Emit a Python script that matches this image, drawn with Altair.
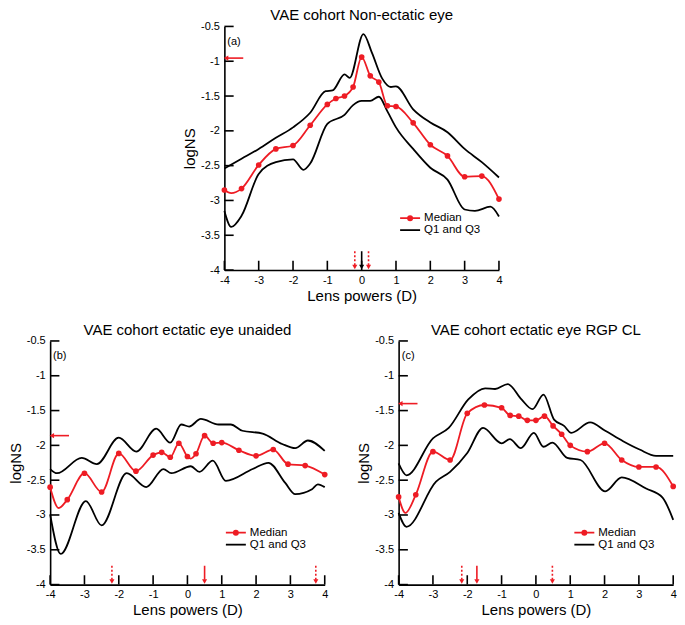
import altair as alt
import pandas as pd

RED = "#ee1c24"
FONT = "Liberation Sans"
W, H = 275, 244

# ---------------- Panel (a): VAE cohort Non-ectatic eye ----------------
a_med_x = [-4, -3.5, -3, -2.5, -2, -1.5, -1, -0.75, -0.5, -0.25, 0, 0.25, 0.5, 0.75, 1, 1.5, 2, 2.5, 3, 3.5, 4]
a_med_y = [-2.85, -2.83, -2.49, -2.26, -2.21, -1.92, -1.62, -1.535, -1.50, -1.37, -0.94, -1.21, -1.30, -1.64, -1.65,
           -1.885, -2.20, -2.36, -2.66, -2.65, -2.98]
a_ext_x = [-3.8]
a_ext_y = [-2.895]
a_q3_x = [-4, -3.5, -3, -2.5, -2, -1.5, -1.05, -0.85, -0.5, -0.35, 0.05, 0.3, 0.6, 0.85, 1.0, 1.5, 2, 2.5, 3, 3.5, 4]
a_q3_y = [-2.54, -2.40, -2.26, -2.10, -1.95, -1.74, -1.43, -1.42, -1.19, -1.24, -0.61, -0.88, -1.25, -1.37, -1.36,
          -1.69, -1.88, -2.02, -2.26, -2.45, -2.67]
a_q1_x = [-4, -3.8, -3.5, -3, -2.5, -2, -1.7, -1.5, -1, -0.5, -0.25, 0, 0.25, 0.5, 0.75, 1, 1.5, 2, 2.5, 3, 3.3, 3.75, 4]
a_q1_y = [-3.15, -3.38, -3.22, -2.62, -2.45, -2.41, -2.56, -2.47, -1.90, -1.77, -1.63, -1.57, -1.57, -1.51, -1.72,
          -1.95, -2.26, -2.53, -2.70, -3.13, -3.15, -3.09, -3.23]
a_down_x = [-0.2, 0, 0.2]
a_down_kind = ["range", "ref", "range"]
a_left_y = -0.955

# ---------------- Panel (b): VAE cohort ectatic eye unaided ----------------
b_med_x = [-4, -3.5, -3, -2.5, -2, -1.5, -1, -0.75, -0.5, -0.25, 0, 0.25, 0.5, 0.75, 1, 1.5, 2, 2.5, 2.93, 3.43, 4]
b_med_y = [-2.60, -2.78, -2.40, -2.67, -2.115, -2.37, -2.14, -2.10, -2.17, -1.97, -2.16, -2.12, -1.86, -1.97, -1.96,
           -2.07, -2.15, -2.06, -2.27, -2.29, -2.42]
b_ext_x = [-3.75, 0.1]
b_ext_y = [-2.90, -2.19]
b_q3_x = [-4, -3.8, -3.08, -2.64, -2.0, -1.49, -0.91, -0.5, -0.18, 0.05, 0.39, 0.91, 1.26, 1.6, 2.19, 2.76, 3.14, 3.51, 4]
b_q3_y = [-2.34, -2.40, -2.18, -2.27, -1.89, -2.09, -1.76, -1.96, -1.70, -1.73, -1.62, -1.70, -1.70, -1.79, -1.83,
          -1.98, -2.04, -1.93, -2.08]
b_q1_x = [-4, -3.69, -2.96, -2.5, -1.77, -1.2, -0.7, -0.47, 0.1, 0.35, 0.74, 1.12, 1.9, 2.36, 2.85, 3.14, 3.63, 3.8, 4]
b_q1_y = [-2.99, -3.56, -2.80, -3.15, -2.40, -2.60, -2.34, -2.40, -2.30, -2.38, -2.22, -2.51, -2.34, -2.25, -2.54,
          -2.70, -2.63, -2.56, -2.60]
b_down_x = [-2.2, 0.5, 3.74]
b_down_kind = ["range", "best", "range"]
b_left_y = -1.86

# ---------------- Panel (c): VAE cohort ectatic eye RGP CL ----------------
c_med_x = [-4, -3.5, -3, -2.5, -2, -1.5, -1, -0.75, -0.5, -0.25, 0, 0.25, 0.5, 0.75, 1, 1.5, 2, 2.5, 3, 3.5, 4]
c_med_y = [-2.74, -2.71, -2.09, -2.21, -1.54, -1.42, -1.46, -1.57, -1.58, -1.64, -1.64, -1.58, -1.72, -1.84, -2.0,
           -2.09, -1.97, -2.21, -2.31, -2.31, -2.59]
c_ext_x = [-3.8]
c_ext_y = [-2.97]
c_q3_x = [-4, -3.77, -3.0, -2.54, -1.97, -1.48, -1.19, -0.82, -0.42, -0.1, 0.22, 0.53, 0.82, 1.03, 1.58, 2.02, 2.54,
          3.02, 3.5, 4]
c_q3_y = [-2.26, -2.43, -1.90, -1.75, -1.34, -1.18, -1.19, -1.12, -1.34, -1.48, -1.27, -1.63, -1.72, -1.82, -1.67,
          -1.79, -1.94, -2.06, -2.15, -2.15]
c_q1_x = [-4, -3.77, -2.91, -2.5, -2.0, -1.54, -1.0, -0.76, -0.44, -0.06, 0.22, 0.48, 0.91, 1.3, 2.02, 2.5, 3.21,
          3.69, 4]
c_q1_y = [-2.97, -3.17, -2.52, -2.38, -2.11, -1.75, -1.97, -1.91, -2.04, -1.82, -2.02, -1.96, -2.18, -2.21, -2.66,
          -2.46, -2.62, -2.75, -3.07]
c_down_x = [-2.16, -1.72, 0.48]
c_down_kind = ["range", "best", "range"]
c_left_y = -1.40

X_TICKS = [-4, -3, -2, -1, 0, 1, 2, 3, 4]
Y_TICKS = [-0.5, -1, -1.5, -2, -2.5, -3, -3.5, -4]

MED_SYM = "M-1,0L1,0M0.22,0A0.22,0.22,0,1,1,-0.22,0A0.22,0.22,0,1,1,0.22,0Z"
KINDS = ["range", "best", "ref", "tick"]


def panel(title, tag, med_x, med_y, ext_x, ext_y, q1_x, q1_y, q3_x, q3_y, down_x, down_kind, left_y):
    med = pd.DataFrame({"x": med_x, "y": med_y, "leg": "Median"})
    line = pd.concat([med, pd.DataFrame({"x": ext_x, "y": ext_y, "leg": "Median"})]).sort_values("x")
    q = pd.concat([
        pd.DataFrame({"x": q1_x, "y": q1_y, "q": "Q1"}),
        pd.DataFrame({"x": q3_x, "y": q3_y, "q": "Q3"}),
    ])
    q["leg"] = "Q1 and Q3"

    # downward arrows and the inward x-axis ticks share one vertical-rule layer
    arrows = pd.DataFrame({"x": down_x, "kind": down_kind, "top": -3.73, "bot": -3.93})
    xticks = pd.DataFrame({"x": X_TICKS, "kind": "tick", "top": -3.865, "bot": -4.0})
    vrules = pd.concat([arrows, xticks], ignore_index=True)
    heads = pd.DataFrame({"x": down_x, "kind": down_kind, "head": -3.955})

    # left arrow and the inward y-axis ticks share one horizontal-rule layer
    larrow = pd.DataFrame({"y": [left_y], "x1": [-3.45], "x2": [-3.92], "kind": ["best"]})
    yticks = pd.DataFrame({"y": Y_TICKS, "x1": -4.0, "x2": -3.73, "kind": "tick"})
    hrules = pd.concat([larrow, yticks], ignore_index=True)
    lhead = pd.DataFrame({"y": [left_y], "head": [-3.95]})
    tagdf = pd.DataFrame({"x": [-3.72], "y": [-0.72], "t": [tag]})

    xs = alt.Scale(domain=[-4, 4], nice=False, zero=False)
    ys = alt.Scale(domain=[-4, -0.5], nice=False, zero=False)
    xa = alt.Axis(values=X_TICKS, title="Lens powers (D)", labelExpr="'' + datum.value",
                  ticks=False, labelPadding=4, titlePadding=3,
                  grid=False, domainColor="black", domainWidth=1.6,
                  labelFont=FONT, labelFontSize=11, labelColor="black", titleFont=FONT, titleFontSize=15,
                  titleFontWeight="normal", titleColor="black", labelFlush=False)
    ya = alt.Axis(values=Y_TICKS, title="logNS", labelExpr="'' + datum.value",
                  ticks=False, labelPadding=5, titlePadding=3,
                  grid=False, domainColor="black", domainWidth=1.6,
                  labelFont=FONT, labelFontSize=11, labelColor="black", titleFont=FONT, titleFontSize=15,
                  titleFontWeight="normal", titleColor="black", labelFlush=False)
    X = lambda f: alt.X(f, scale=xs, axis=xa)
    Y = lambda f: alt.Y(f, scale=ys, axis=ya)

    q_layer = alt.Chart(q).mark_line(strokeWidth=1.8, interpolate="monotone").encode(
        x=X("x:Q"), y=Y("y:Q"), detail="q:N",
        stroke=alt.Stroke("leg:N", scale=alt.Scale(domain=["Q1 and Q3"], range=["black"]),
                          legend=alt.Legend(title=None, orient="none", legendX=175, legendY=193,
                                            symbolType="stroke", symbolSize=400, symbolStrokeWidth=1.8,
                                            labelFont=FONT, labelFontSize=11.5, labelColor="black",
                                            labelFontWeight="normal", labelOffset=3, padding=0)))
    cscale = alt.Scale(domain=["Median"], range=[RED])
    cleg = alt.Legend(title=None, orient="none", legendX=175, legendY=181, symbolType=MED_SYM,
                      symbolSize=400, symbolStrokeWidth=1.6, symbolFillColor=RED, symbolStrokeColor=RED,
                      labelFont=FONT, labelFontSize=11.5, labelColor="black", labelFontWeight="normal",
                      labelOffset=3, padding=0)
    med_line = alt.Chart(line).mark_line(strokeWidth=1.8, interpolate="monotone").encode(
        x=X("x:Q"), y=Y("y:Q"), color=alt.Color("leg:N", scale=cscale, legend=cleg))
    med_pts = alt.Chart(med).mark_point(filled=True, size=32, opacity=1).encode(
        x=X("x:Q"), y=Y("y:Q"), color=alt.Color("leg:N", scale=cscale, legend=None))

    kscale_c = alt.Scale(domain=KINDS, range=[RED, RED, "black", "black"])
    kscale_d = alt.Scale(domain=KINDS, range=[[2, 2], [1, 0], [1, 0], [1, 0]])
    kscale_w = alt.Scale(domain=KINDS, range=[1.6, 1.6, 1.6, 2.4])
    v_rule = alt.Chart(vrules).mark_rule().encode(
        x=X("x:Q"), y=Y("top:Q"), y2="bot:Q",
        color=alt.Color("kind:N", scale=kscale_c, legend=None),
        strokeDash=alt.StrokeDash("kind:N", scale=kscale_d, legend=None),
        strokeWidth=alt.StrokeWidth("kind:N", scale=kscale_w, legend=None))
    d_head = alt.Chart(heads).mark_point(shape="triangle-down", filled=True, size=26, opacity=1).encode(
        x=X("x:Q"), y=Y("head:Q"), fill=alt.Fill("kind:N", scale=kscale_c, legend=None))
    h_rule = alt.Chart(hrules).mark_rule().encode(
        x=X("x1:Q"), x2="x2:Q", y=Y("y:Q"),
        color=alt.Color("kind:N", scale=kscale_c, legend=None),
        strokeWidth=alt.StrokeWidth("kind:N", scale=kscale_w, legend=None))
    l_head = alt.Chart(lhead).mark_point(shape="triangle-left", filled=True, size=26, color=RED, opacity=1).encode(
        x=X("head:Q"), y=Y("y:Q"))
    t_layer = alt.Chart(tagdf).mark_text(font=FONT, fontSize=11, color="black").encode(
        x=X("x:Q"), y=Y("y:Q"), text="t:N")

    return alt.layer(q_layer, med_line, med_pts, v_rule, d_head, h_rule, l_head, t_layer).resolve_scale(
        color="independent").properties(
        width=W, height=H,
        title=alt.TitleParams(title, font=FONT, fontSize=15, fontWeight="normal", color="black", offset=-3))


pa = panel("VAE cohort Non-ectatic eye", "(a)", a_med_x, a_med_y, a_ext_x, a_ext_y, a_q1_x, a_q1_y,
           a_q3_x, a_q3_y, a_down_x, a_down_kind, a_left_y)
pb = panel("VAE cohort ectatic eye unaided", "(b)", b_med_x, b_med_y, b_ext_x, b_ext_y, b_q1_x, b_q1_y,
           b_q3_x, b_q3_y, b_down_x, b_down_kind, b_left_y)
pc = panel("VAE cohort ectatic eye RGP CL", "(c)", c_med_x, c_med_y, c_ext_x, c_ext_y, c_q1_x, c_q1_y,
           c_q3_x, c_q3_y, c_down_x, c_down_kind, c_left_y)

row = alt.hconcat(pb, pc, spacing=28).resolve_scale(color="independent", stroke="independent",
                                                     fill="independent", strokeDash="independent",
                                                     strokeWidth="independent")
chart = alt.vconcat(pa, row, spacing=20, center=True).resolve_scale(
    color="independent", stroke="independent", fill="independent", strokeDash="independent",
    strokeWidth="independent").properties(
    padding=0
).configure(background="white").configure_view(stroke=None)

chart.save("out.html", embed_options={"renderer": "svg", "actions": False})
